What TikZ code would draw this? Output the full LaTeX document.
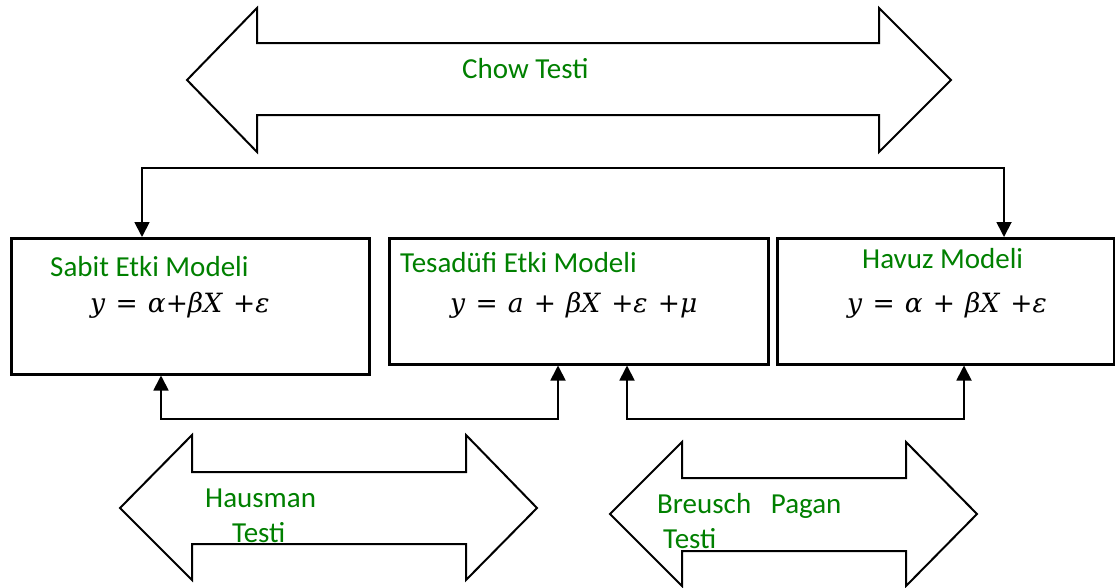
\documentclass[tikz,border=0pt]{standalone}
\usepackage{fontspec}
\setmainfont{Carlito}
\newfontfamily\eqfont[WordSpace={1.2}]{DejaVu Serif}
\newcommand\eqv[1]{\textit{#1}}
\usetikzlibrary{arrows.meta}
\definecolor{tgreen}{RGB}{0,128,0}
\begin{document}
\begin{tikzpicture}[x=1pt,y=-1pt,
  lbl/.style={font=\fontsize{29}{35}\selectfont, text=tgreen, inner sep=0pt, anchor=base west},
  eq/.style={font=\eqfont\fontsize{26.5}{30}\selectfont, inner sep=0pt, anchor=base west},
  model/.style={draw, line width=2.5pt, inner sep=0pt, anchor=north west},
  fat/.style={draw, line width=2pt, fill=white, line join=miter},
  link/.style={line width=1.8pt},
  ends/.style={{Triangle[width=15pt,length=15pt]}-{Triangle[width=15pt,length=15pt]}}]
\useasboundingbox (0,0) rectangle (1115,587);

% test arrows
\draw[fat] (187,80) -- (257,8) -- (257,43) -- (879,43) -- (879,8) -- (951,80)
  -- (879,152) -- (879,115) -- (257,115) -- (257,152) -- cycle;
\draw[fat] (120,508) -- (192,435) -- (192,472) -- (466,472) -- (466,435) -- (537,508)
  -- (466,580) -- (466,544) -- (192,544) -- (192,580) -- cycle;
\draw[fat] (610,514) -- (682,442) -- (682,478) -- (906,478) -- (906,442) -- (977,514)
  -- (906,586) -- (906,551) -- (682,551) -- (682,586) -- cycle;

\node[lbl] (chow) at (462,78) {Chow Testi};
\node[lbl] (haus1) at (205,507) {Hausman};
\node[lbl] (haus2) at (232,542) {Testi};
\node[lbl] (bp1) at (657,513) {Breusch\ \ \ Pagan};
\node[lbl] (bp2) at (663,548) {Testi};

% model boxes
\node[model, minimum width=358pt, minimum height=136pt] (sabit) at (10,237) {};
\node[model, minimum width=379pt, minimum height=126pt] (tesadufi) at (388,237) {};
\node[model, minimum width=337pt, minimum height=126pt] (havuz) at (776,237) {};

\node[lbl] (sabitT) at (50,276) {Sabit Etki Modeli};
\node[eq] (sabitE) at (90,312) {\eqv{y} = \eqv{α}+\eqv{βX} +\eqv{ε}};
\node[lbl] (tesT) at (400,272) {Tesadüfi Etki Modeli};
\node[eq] (tesE) at (450,312) {\eqv{y} = \eqv{a} + \eqv{βX} +\eqv{ε} +\eqv{μ}};
\node[lbl] (havT) at (862,268) {Havuz Modeli};
\node[eq] (havE) at (847,312) {\eqv{y} = \eqv{α} + \eqv{βX} +\eqv{ε}};

% connectors
\coordinate (cL) at (142,168);
\coordinate (cR) at (1004,168);
\coordinate (hL) at (161,419);
\coordinate (hR) at (558,419);
\coordinate (bL) at (627,419);
\coordinate (bR) at (964,419);
\draw[link, ends] (cL |- sabit.north) -- (cL) -- (cR) -- (cR |- havuz.north);
\draw[link, ends] (hL |- sabit.south) -- (hL) -- (hR) -- (hR |- tesadufi.south);
\draw[link, ends] (bL |- tesadufi.south) -- (bL) -- (bR) -- (bR |- havuz.south);
\end{tikzpicture}
\end{document}
